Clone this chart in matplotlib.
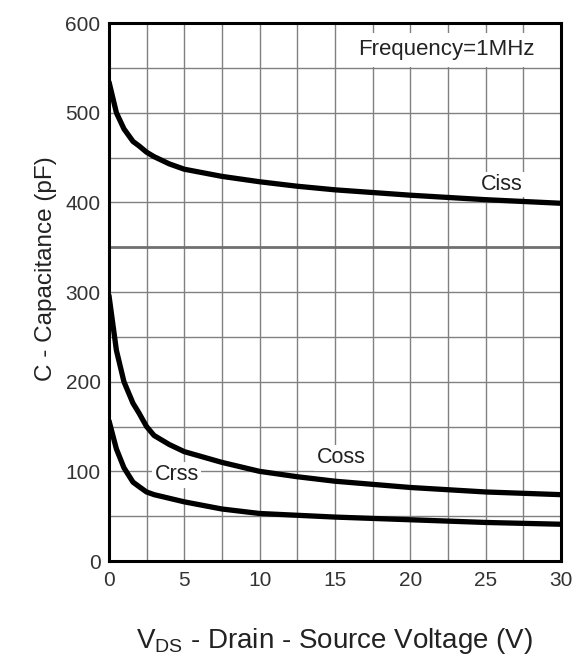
import matplotlib
matplotlib.use("Agg")
import matplotlib.pyplot as plt
import numpy as np

plt.rcParams['font.family'] = ['Liberation Sans', 'DejaVu Sans']

vds = [0, 0.5, 1, 1.6, 2, 2.5, 3, 4, 5, 7.5, 10, 12.5, 15, 20, 25, 30]
ciss = [535, 500, 482, 468, 463, 456, 451, 443, 437, 429, 423, 418, 414, 408, 403, 399]
coss = [297, 235, 200, 176, 165, 150, 140, 130, 122, 110, 100, 94, 89, 82, 77, 74]
crss = [157, 125, 104, 88, 83, 77, 74, 70, 66, 58, 53, 51, 49, 46, 43, 41]

xticks = [0, 5, 10, 15, 20, 25, 30]
yticks = [0, 100, 200, 300, 400, 500, 600]

fig = plt.figure(figsize=(5.76, 6.59), dpi=100)
ax = fig.add_axes([0.189, 0.1487, 0.785, 0.8163])

ax.set_xlim(0, 30)
ax.set_ylim(0, 600)

for gx in np.arange(2.5, 30, 2.5):
    ax.axvline(gx, color='#808080', lw=1.0, zorder=1)
for gy in np.arange(50, 600, 50):
    if gy == 350:
        ax.axhline(gy, color='#707070', lw=2.0, zorder=1)
    else:
        ax.axhline(gy, color='#808080', lw=1.0, zorder=1)

for s in (ciss, coss, crss):
    ax.plot(vds, s, color='black', lw=3.8, zorder=3, solid_capstyle='butt')

ax.text(22.4, 570, 'Frequency=1MHz', fontsize=16, ha='center', va='center', color='#222222',
        bbox=dict(facecolor='white', edgecolor='none', pad=5), zorder=2)
box = dict(facecolor='white', edgecolor='none', pad=1.5)
ax.text(26.1, 420, 'Ciss', fontsize=15.5, ha='center', va='center', color='#222222', bbox=box, zorder=2)
ax.text(15.4, 115, 'Coss', fontsize=15.5, ha='center', va='center', color='#222222', bbox=box, zorder=2)
ax.text(4.5, 96, 'Crss', fontsize=15.5, ha='center', va='center', color='#222222', bbox=box, zorder=2)

ax.set_xticks(xticks)
ax.set_yticks(yticks)
ax.set_xticklabels([str(v) for v in xticks], fontsize=15, color='#333333')
ax.set_yticklabels([str(v) for v in yticks], fontsize=15, color='#333333')
ax.tick_params(axis='y', length=0, pad=6)
ax.tick_params(axis='x', length=0, pad=7)

for sp in ax.spines.values():
    sp.set_linewidth(2.2)
    sp.set_color('black')
    sp.set_zorder(5)

ax.set_ylabel('C - Capacitance (pF)', fontsize=17.5, color='#222222', va='center')
ax.yaxis.set_label_coords(-0.139, 0.544)
ax.set_xlabel(r'V$_{\mathregular{DS}}$ - Drain - Source Voltage (V)', fontsize=20, color='#222222', labelpad=26)

fig.savefig('out.png', dpi=100)
